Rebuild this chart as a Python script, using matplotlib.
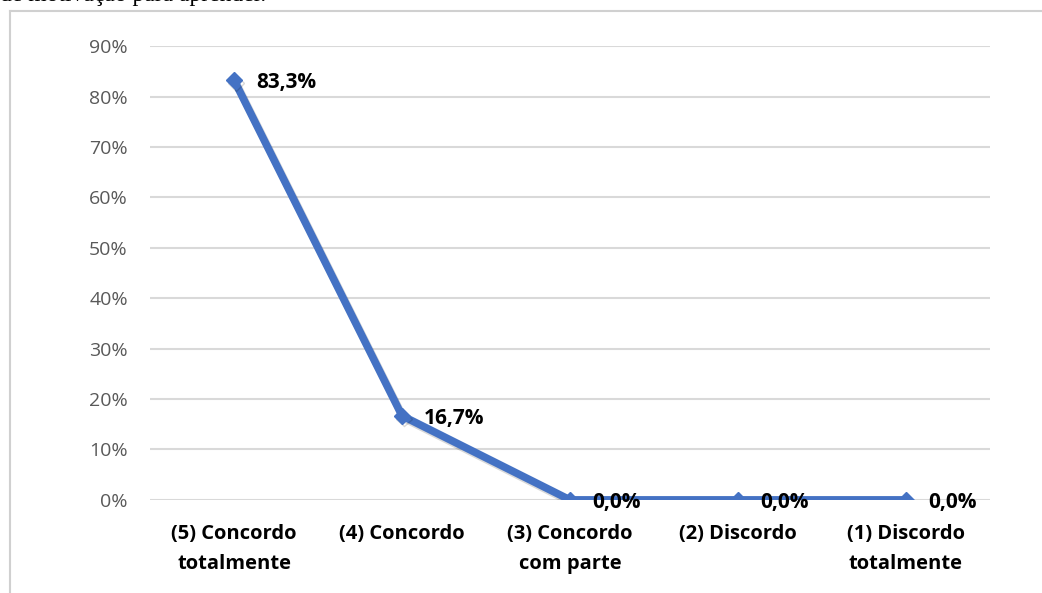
import matplotlib.pyplot as plt
import matplotlib.patheffects as pe
from matplotlib.lines import Line2D
from matplotlib.ticker import PercentFormatter

categories = ["(5) Concordo\ntotalmente", "(4) Concordo", "(3) Concordo\ncom parte",
              "(2) Discordo", "(1) Discordo\ntotalmente"]
values = [83.3, 16.7, 0.0, 0.0, 0.0]
labels = ["83,3%", "16,7%", "0,0%", "0,0%", "0,0%"]
yticks = [0, 10, 20, 30, 40, 50, 60, 70, 80, 90]

plt.rcParams['font.family'] = ['Open Sans', 'DejaVu Sans']

fig = plt.figure(figsize=(10.42, 5.93), dpi=100)
ax = fig.add_axes([0.144, 0.157, 0.806, 0.765])

x = range(len(categories))
ax.plot(x, values, color='#4472C4', lw=5.5, marker='D', markersize=8,
        solid_capstyle='round',
        path_effects=[pe.SimpleLineShadow(offset=(1.5, -2), alpha=0.15, shadow_color='black'),
                      pe.Normal()], zorder=3)

for i, (v, t) in enumerate(zip(values, labels)):
    ax.annotate(t, (i, v), xytext=(16, -2), textcoords='offset points',
                ha='left', va='center', fontsize=15, fontweight='bold', color='black')

ax.set_xlim(-0.5, len(categories) - 0.5)
ax.set_ylim(0, 90)
ax.set_yticks(yticks)
ax.yaxis.set_major_formatter(PercentFormatter(decimals=0))
ax.set_xticks(list(x))
ax.set_xticklabels(categories, fontsize=14.5, fontweight='bold', linespacing=1.7)
ax.tick_params(axis='y', labelsize=14, length=0, pad=16)
ax.tick_params(axis='x', length=0, pad=17)
for lab in ax.get_yticklabels():
    lab.set_color('#595959')
ax.grid(axis='y', color='#d9d9d9', lw=1.5)
ax.set_axisbelow(True)
for s in ax.spines.values():
    s.set_visible(False)

# chart frame (cut off at right and bottom)
fig.add_artist(Line2D([10 / 1042, 1.0], [1 - 11 / 593] * 2, color='#d0d0d0', lw=1.5))
fig.add_artist(Line2D([10 / 1042] * 2, [0.0, 1 - 11 / 593], color='#d0d0d0', lw=1.5))

# text above the chart, mostly cut off
fig.text(0.0, 1 - 1.5 / 593, "de motivação para aprender.", fontsize=17,
         family='Liberation Serif', va='baseline', ha='left')

fig.savefig("out.png", dpi=100)
